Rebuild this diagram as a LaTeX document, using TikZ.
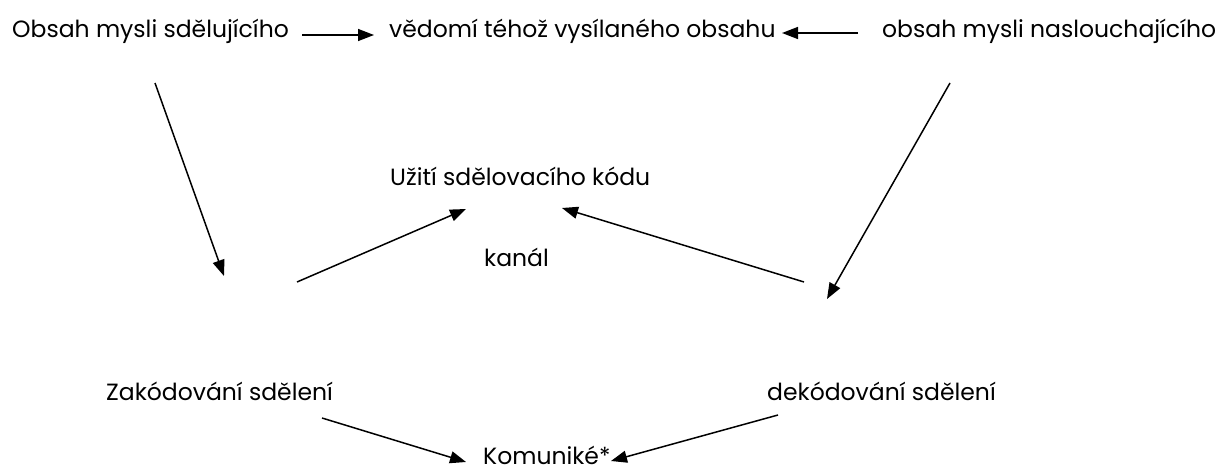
\documentclass[tikz,border=0pt]{standalone}
\usepackage{fontspec}
\setmainfont{Poppins}
\usetikzlibrary{arrows.meta}
\begin{document}
\begin{tikzpicture}[x=1pt,y=-1pt,
  lbl/.style={inner sep=0pt,anchor=base west,font=\fontsize{23.5}{26}\selectfont},
  link/.style={line width=1.5pt,-{Triangle[length=16pt,width=12pt]}}]
\useasboundingbox (0,0) rectangle (1221,471);
% texts
\node[lbl] (sender) at (12,37) {Obsah mysli sdělujícího};
\node[lbl] (shared) at (389,37) {vědomí téhož vysílaného obsahu};
\node[lbl] (listener) at (882,37) {obsah mysli naslouchajícího};
\node[lbl] (code) at (390,185) {Užití sdělovacího kódu};
\node[lbl] (channel) at (484,266) {kanál};
\node[lbl] (encode) at (106,400) {Zakódování sdělení};
\node[lbl] (decode) at (767,400) {dekódování sdělení};
\node[lbl] (message) at (483,464) {Komuniké*};
% arrow end points
\coordinate (a1s) at (302,35);  \coordinate (a1e) at (374,35);
\coordinate (a2s) at (858,33);  \coordinate (a2e) at (782,33);
\coordinate (a3s) at (155,83);  \coordinate (a3e) at (224,276);
\coordinate (a4s) at (297,282); \coordinate (a4e) at (466,209);
\coordinate (a5s) at (804,282); \coordinate (a5e) at (562,208);
\coordinate (a6s) at (950,83);  \coordinate (a6e) at (827,299);
\coordinate (a7s) at (322,418); \coordinate (a7e) at (466,462);
\coordinate (a8s) at (778,415); \coordinate (a8e) at (611,461);
% arrows
\draw[link] (a1s) -- (a1e);
\draw[link] (a2s) -- (a2e);
\draw[link] (a3s) -- (a3e);
\draw[link] (a4s) -- (a4e);
\draw[link] (a5s) -- (a5e);
\draw[link] (a6s) -- (a6e);
\draw[link] (a7s) -- (a7e);
\draw[link] (a8s) -- (a8e);
\end{tikzpicture}
\end{document}
